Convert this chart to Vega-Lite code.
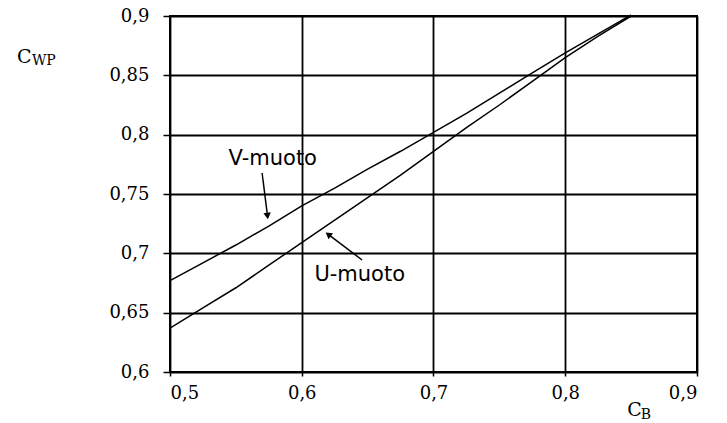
{
  "$schema": "https://vega.github.io/schema/vega-lite/v6.json",
  "autosize": "none",
  "width": 527,
  "height": 356,
  "padding": {"left": 170, "top": 16, "right": 30, "bottom": 51},
  "background": "white",
  "config": {
    "view": {"stroke": "black", "strokeWidth": 2}
  },
  "datasets": {
    "curves": [
      {"cb": 0.5, "cwp": 0.677, "s": "V"}, {"cb": 0.525, "cwp": 0.692, "s": "V"},
      {"cb": 0.55, "cwp": 0.707, "s": "V"}, {"cb": 0.575, "cwp": 0.723, "s": "V"},
      {"cb": 0.6, "cwp": 0.740, "s": "V"}, {"cb": 0.625, "cwp": 0.755, "s": "V"},
      {"cb": 0.65, "cwp": 0.771, "s": "V"}, {"cb": 0.675, "cwp": 0.786, "s": "V"},
      {"cb": 0.7, "cwp": 0.802, "s": "V"}, {"cb": 0.725, "cwp": 0.818, "s": "V"},
      {"cb": 0.75, "cwp": 0.835, "s": "V"}, {"cb": 0.775, "cwp": 0.852, "s": "V"},
      {"cb": 0.8, "cwp": 0.869, "s": "V"}, {"cb": 0.825, "cwp": 0.885, "s": "V"},
      {"cb": 0.85, "cwp": 0.901, "s": "V"},
      {"cb": 0.5, "cwp": 0.637, "s": "U"}, {"cb": 0.525, "cwp": 0.654, "s": "U"},
      {"cb": 0.55, "cwp": 0.671, "s": "U"}, {"cb": 0.575, "cwp": 0.690, "s": "U"},
      {"cb": 0.6, "cwp": 0.709, "s": "U"}, {"cb": 0.625, "cwp": 0.728, "s": "U"},
      {"cb": 0.65, "cwp": 0.747, "s": "U"}, {"cb": 0.675, "cwp": 0.766, "s": "U"},
      {"cb": 0.7, "cwp": 0.786, "s": "U"}, {"cb": 0.725, "cwp": 0.806, "s": "U"},
      {"cb": 0.75, "cwp": 0.825, "s": "U"}, {"cb": 0.775, "cwp": 0.845, "s": "U"},
      {"cb": 0.8, "cwp": 0.865, "s": "U"}, {"cb": 0.825, "cwp": 0.883, "s": "U"},
      {"cb": 0.85, "cwp": 0.9, "s": "U"}
    ],
    "notes": [
      {"label": "V-muoto", "cb": 0.578, "cwp": 0.7795},
      {"label": "U-muoto", "cb": 0.644, "cwp": 0.682}
    ],
    "arrows": [
      {"cb": 0.5699, "cwp": 0.7677, "cb2": 0.5740, "cwp2": 0.7315},
      {"cb": 0.6458, "cwp": 0.6944, "cb2": 0.6201, "cwp2": 0.7160}
    ],
    "heads": [
      {"cb": 0.5740, "cwp": 0.7315}
    ],
    "headsU": [
      {"cb": 0.6201, "cwp": 0.7160}
    ],
    "titlesBig": [
      {"label": "C", "cb": 0.3838, "cwp": 0.8604},
      {"label": "C", "cb": 0.847, "cwp": 0.5629}
    ],
    "titlesSub": [
      {"label": "WP", "cb": 0.3952, "cwp": 0.8587},
      {"label": "B", "cb": 0.8573, "cwp": 0.5606}
    ]
  },
  "layer": [
    {
      "data": {"name": "curves"},
      "mark": {"type": "line", "strokeWidth": 1.5, "color": "black"},
      "encoding": {
        "x": {"field": "cb", "type": "quantitative",
              "scale": {"domain": [0.5, 0.9], "nice": false, "zero": false},
              "axis": {"values": [0.5, 0.6, 0.7, 0.8, 0.9], "tickSize": 4, "labelPadding": 8,
                       "title": null, "grid": true, "gridColor": "black", "gridWidth": 1.8, "gridOpacity": 1,
                       "domain": false, "tickColor": "black", "tickWidth": 1.5,
                       "labelFont": "DejaVu Serif", "labelFontSize": 18, "labelColor": "black",
                       "labelExpr": "replace(format(datum.value, '.2~f'), '.', ',')"}},
        "y": {"field": "cwp", "type": "quantitative",
              "scale": {"domain": [0.6, 0.9], "nice": false, "zero": false},
              "axis": {"values": [0.6, 0.65, 0.7, 0.75, 0.8, 0.85, 0.9], "tickSize": 7, "labelPadding": 14,
                       "title": null, "grid": true, "gridColor": "black", "gridWidth": 1.8, "gridOpacity": 1,
                       "domain": false, "tickColor": "black", "tickWidth": 1.5,
                       "labelFont": "DejaVu Serif", "labelFontSize": 18, "labelColor": "black",
                       "labelExpr": "replace(format(datum.value, '.2~f'), '.', ',')"}},
        "detail": {"field": "s"}
      }
    },
    {
      "data": {"name": "notes"},
      "mark": {"type": "text", "font": "DejaVu Sans", "fontSize": 21, "color": "black", "align": "center", "baseline": "middle"},
      "encoding": {
        "x": {"field": "cb", "type": "quantitative"},
        "y": {"field": "cwp", "type": "quantitative"},
        "text": {"field": "label"}
      }
    },
    {
      "data": {"name": "arrows"},
      "mark": {"type": "rule", "strokeWidth": 1.5, "color": "black"},
      "encoding": {
        "x": {"field": "cb", "type": "quantitative"},
        "y": {"field": "cwp", "type": "quantitative"},
        "x2": {"field": "cb2"},
        "y2": {"field": "cwp2"}
      }
    },
    {
      "data": {"name": "heads"},
      "mark": {"type": "point", "shape": "triangle-down", "filled": true, "color": "black", "size": 55, "opacity": 1, "angle": -7},
      "encoding": {
        "x": {"field": "cb", "type": "quantitative"},
        "y": {"field": "cwp", "type": "quantitative"}
      }
    },
    {
      "data": {"name": "headsU"},
      "mark": {"type": "point", "shape": "triangle-up", "filled": true, "color": "black", "size": 55, "opacity": 1, "angle": -53},
      "encoding": {
        "x": {"field": "cb", "type": "quantitative"},
        "y": {"field": "cwp", "type": "quantitative"}
      }
    },
    {
      "data": {"name": "titlesBig"},
      "mark": {"type": "text", "font": "DejaVu Serif", "fontSize": 19, "color": "black", "align": "left", "baseline": "alphabetic"},
      "encoding": {
        "x": {"field": "cb", "type": "quantitative"},
        "y": {"field": "cwp", "type": "quantitative"},
        "text": {"field": "label"}
      }
    },
    {
      "data": {"name": "titlesSub"},
      "mark": {"type": "text", "font": "DejaVu Serif", "fontSize": 14, "color": "black", "align": "left", "baseline": "alphabetic"},
      "encoding": {
        "x": {"field": "cb", "type": "quantitative"},
        "y": {"field": "cwp", "type": "quantitative"},
        "text": {"field": "label"}
      }
    }
  ]
}
